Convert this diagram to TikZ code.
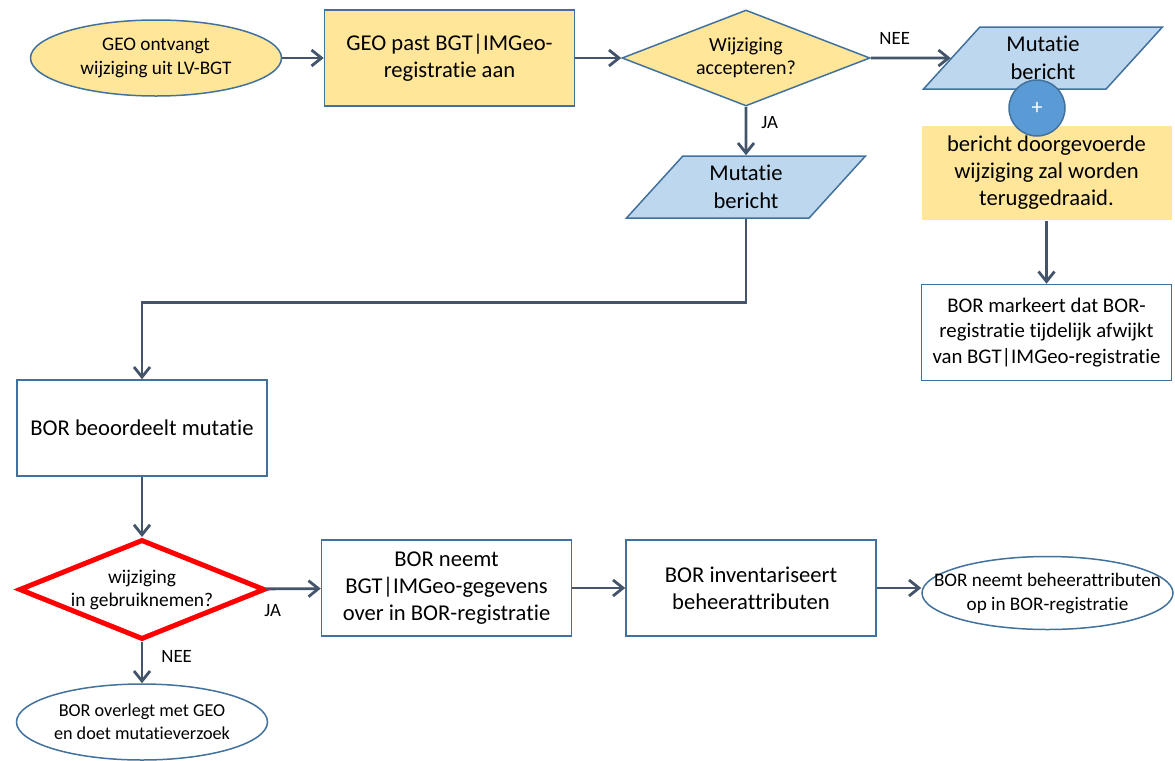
\documentclass[tikz,border=0pt]{standalone}
\usepackage{fontspec}
\setmainfont{Carlito}[Ligatures=NoCommon]
\usetikzlibrary{shapes.geometric,arrows.meta}
\definecolor{geel}{HTML}{FFE699}
\definecolor{lichtblauw}{HTML}{BDD7EE}
\definecolor{rand}{HTML}{41719C}
\definecolor{plusblauw}{HTML}{5B9BD5}
\definecolor{leisteen}{HTML}{44546A}
\begin{document}
\begin{tikzpicture}[
    x=0.5pt, y=-0.5pt,
    every node/.style={%
      align=center,
      inner sep=0pt,
      font=\fontsize{9.6}{12}\selectfont,
    },
    stap/.style={%
      draw=rand,
      line width=0.75pt,
      rectangle,
      fill=white,
      minimum width=125pt,
      minimum height=48pt,
      font=\fontsize{11.3}{13.5}\selectfont,
    },
    eindpunt/.style={%
      draw=rand,
      line width=0.75pt,
      ellipse,
      fill=white,
      inner xsep=-14pt,
      minimum width=125.5pt,
      minimum height=38pt,
    },
    keuze/.style={%
      draw=rand,
      line width=0.75pt,
      diamond,
      fill=geel,
      shape aspect=2.6,
      minimum width=124pt,
      minimum height=48pt,
      font=\fontsize{10}{11.5}\selectfont,
    },
    bericht/.style={%
      draw=rand,
      line width=0.75pt,
      trapezium,
      trapezium left angle=53,
      trapezium right angle=127,
      trapezium stretches=true,
      fill=lichtblauw,
      minimum width=120pt,
      minimum height=31pt,
      font=\fontsize{11.3}{13.8}\selectfont,
    },
    pijl/.style={%
      draw=leisteen,
      line width=1.4pt,
      -{Straight Barb[length=5pt,width=8pt]},
    },
    antwoord/.style={%
      font=\fontsize{9.4}{10}\selectfont,
    },
  ]
    \useasboundingbox (0,0) rectangle (1175,761);
    \node [eindpunt, fill=geel] (geoOntvangt) at (156,58) {GEO ontvangt\\wijziging uit LV-BGT};
    \path (geoOntvangt) ++(293.5,0) node [stap, fill=geel] (geoPast) {GEO past BGT|IMGeo-\\registratie aan};
    \path (geoPast) ++(296.5,0) node [keuze] (accepteren) {Wijziging\\accepteren?};
    \path (accepteren) ++(297,0) node [bericht] (mutatieNee) {Mutatie\\bericht};
    \path (mutatieNee) ++(3.5,115) node [stap, draw=none, fill=geel, minimum height=47pt] (teruggedraaid) {bericht doorgevoerde\\wijziging zal worden\\teruggedraaid.};
    \path (mutatieNee) ++(-6,50) node [circle, draw=rand, line width=0.75pt, fill=plusblauw, minimum size=28pt, text=white, font=\fontsize{11}{11}\selectfont] (plus) {+};
    \path (teruggedraaid) ++(0,159.5) node [stap, font=\fontsize{10.4}{12.9}\selectfont] (borMarkeert) {BOR markeert dat BOR-\\registratie tijdelijk afwijkt\\van BGT|IMGeo-registratie};
    \path (accepteren) ++(0,129) node [bericht] (mutatieJa) {Mutatie\\bericht};
    \path (geoOntvangt) ++(-14,370) node [stap] (borBeoordeelt) {BOR beoordeelt mutatie};
    \path (borBeoordeelt) ++(0,161.5) node [keuze, draw=red, line width=2.5pt, fill=white, shape aspect=2.5, minimum width=123pt, minimum height=50pt, font=\fontsize{9.7}{11.5}\selectfont] (gebruiknemen) {wijziging\\in gebruiknemen?};
    \path (gebruiknemen) ++(304.5,-1.5) node [stap] (borNeemt) {BOR neemt\\BGT|IMGeo-gegevens\\over in BOR-registratie};
    \path (borNeemt) ++(304.5,0) node [stap] (borInventariseert) {BOR inventariseert\\beheerattributen};
    \path (borInventariseert) ++(296.5,5) node [eindpunt, minimum height=36.5pt] (borOpnemen) {BOR neemt beheerattributen\\op in BOR-registratie};
    \path (gebruiknemen) ++(0,132.5) node [eindpunt, font=\fontsize{9.1}{11.5}\selectfont] (borOverlegt) {BOR overlegt met GEO\\en doet mutatieverzoek};
    \draw [pijl] (geoOntvangt) -- (geoPast);
    \draw [pijl] (geoPast) -- (accepteren);
    \draw [pijl] (accepteren) -- (mutatieNee) node [antwoord, above=6pt, pos=0.3] (neeBoven) {NEE};
    \draw [pijl] (accepteren) -- (mutatieJa) node [antwoord, right=7pt, pos=0.32] (jaBoven) {JA};
    \draw [pijl] (mutatieJa.south) -- ++(0,84) -| (borBeoordeelt.north);
    \draw [pijl] (teruggedraaid) -- (borMarkeert);
    \draw [pijl] (borBeoordeelt) -- (gebruiknemen);
    \draw [pijl] (gebruiknemen) -- (borNeemt) node [antwoord, below=7pt, pos=0.12] (jaOnder) {JA};
    \draw [pijl] (borNeemt) -- (borInventariseert);
    \draw [pijl] (borInventariseert.east) -- (borInventariseert.east -| borOpnemen.west);
    \draw [pijl] (gebruiknemen) -- (borOverlegt) node [antwoord, right=9pt, pos=0.35] (neeOnder) {NEE};
\end{tikzpicture}
\end{document}
